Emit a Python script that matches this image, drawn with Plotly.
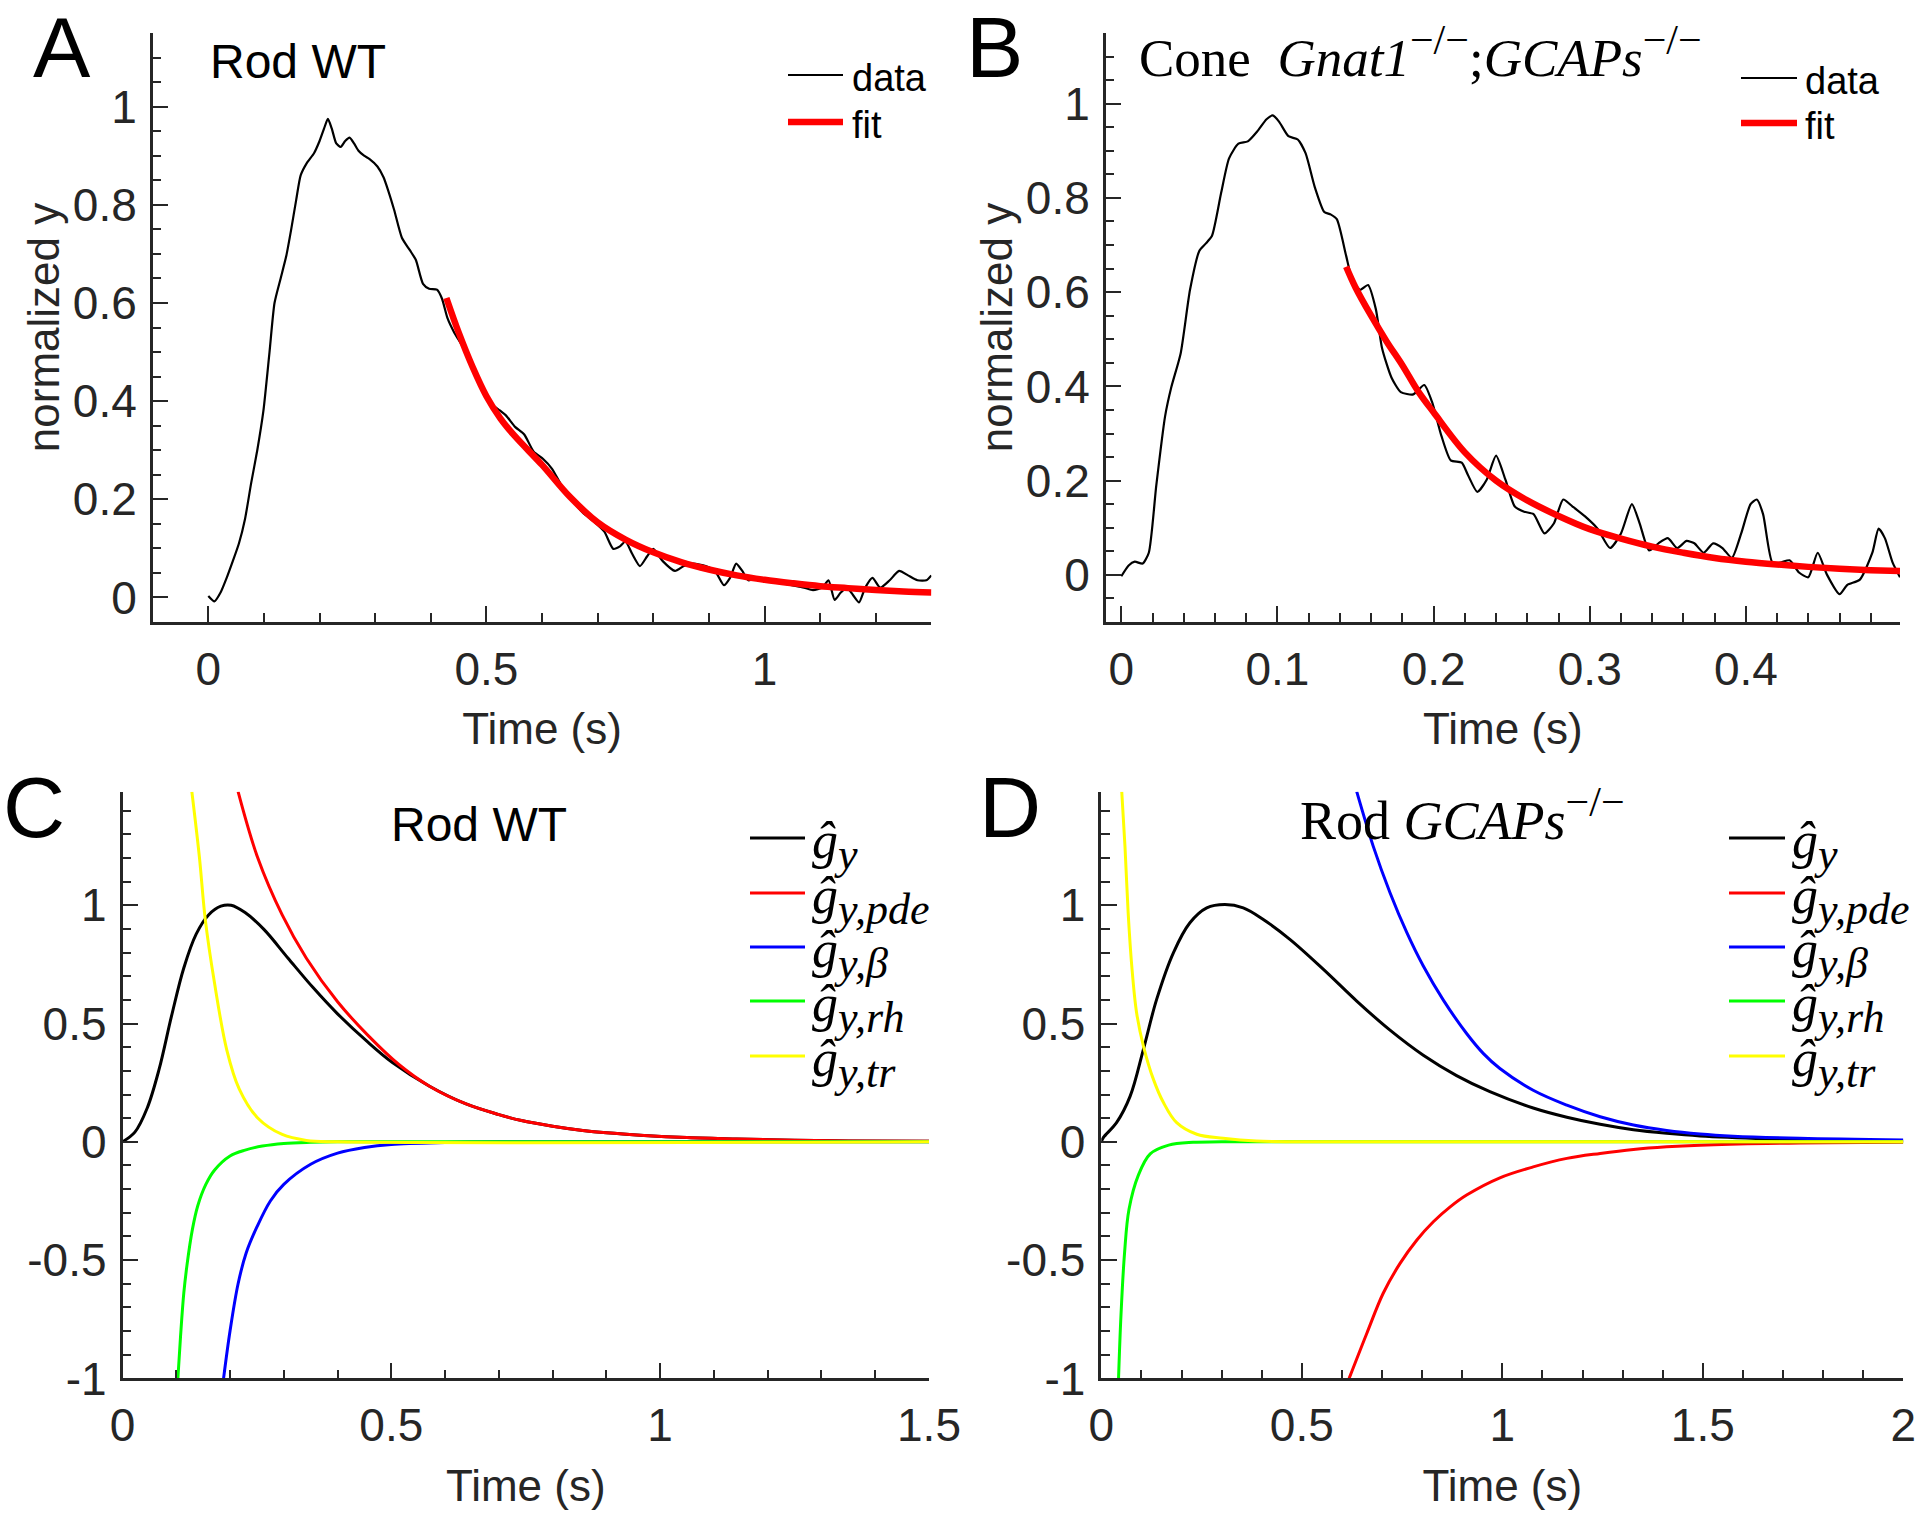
import plotly.graph_objects as go

W, H = 1920, 1518

# ---------------- Panel A: Rod WT (data + fit) ----------------
tA = [0.0, 0.011, 0.022, 0.033, 0.044, 0.055, 0.066, 0.077, 0.088, 0.099, 0.11, 0.119, 0.13, 0.14,
      0.149, 0.158, 0.166, 0.177, 0.19, 0.2, 0.208, 0.215, 0.222, 0.23, 0.238, 0.246, 0.254, 0.262,
      0.27, 0.28, 0.29, 0.304, 0.315, 0.324, 0.334, 0.348, 0.362, 0.373, 0.386, 0.397, 0.411, 0.42,
      0.43, 0.442, 0.458, 0.475, 0.491, 0.508, 0.524, 0.535, 0.552, 0.568, 0.585, 0.602, 0.618, 0.635,
      0.651, 0.673, 0.695, 0.712, 0.728, 0.74, 0.75, 0.762, 0.776, 0.789, 0.8, 0.817, 0.839, 0.855,
      0.872, 0.894, 0.911, 0.927, 0.938, 0.949, 0.96, 0.971, 0.988, 1.004, 1.026, 1.049, 1.071, 1.087,
      1.104, 1.115, 1.126, 1.137, 1.148, 1.159, 1.17, 1.181, 1.194, 1.208, 1.225, 1.242, 1.258, 1.275,
      1.291, 1.3]
yA = [0.003, -0.008, 0.01, 0.04, 0.074, 0.11, 0.16, 0.233, 0.3, 0.38, 0.5, 0.6, 0.65, 0.695,
      0.75, 0.81, 0.86, 0.885, 0.905, 0.93, 0.955, 0.975, 0.955, 0.925, 0.918, 0.93, 0.937, 0.925,
      0.91, 0.9, 0.893, 0.878, 0.856, 0.827, 0.79, 0.733, 0.708, 0.688, 0.639, 0.629, 0.627, 0.609,
      0.569, 0.54, 0.51, 0.47, 0.431, 0.396, 0.381, 0.371, 0.347, 0.332, 0.297, 0.282, 0.262, 0.228,
      0.203, 0.173, 0.153, 0.134, 0.099, 0.104, 0.114, 0.089, 0.064, 0.084, 0.099, 0.074, 0.054, 0.064,
      0.069, 0.064, 0.054, 0.025, 0.04, 0.069, 0.054, 0.035, 0.04, 0.035, 0.03, 0.025, 0.02, 0.015,
      0.02, 0.035, -0.005, 0.01, 0.02, 0.005, -0.01, 0.02, 0.04, 0.02, 0.035, 0.054, 0.045, 0.035,
      0.035, 0.045]
tA_fit = [0.428, 0.45, 0.475, 0.5, 0.525, 0.55, 0.6, 0.65, 0.7, 0.75, 0.8, 0.85, 0.9, 0.95, 1.0,
          1.05, 1.1, 1.15, 1.2, 1.25, 1.3]
yA_fit = [0.61, 0.54, 0.47, 0.41, 0.365, 0.33, 0.27, 0.205, 0.153, 0.118, 0.092, 0.072, 0.057,
          0.045, 0.036, 0.029, 0.023, 0.019, 0.015, 0.012, 0.01]

# ---------------- Panel B: Cone Gnat1-/-;GCAPs-/- ----------------
tB = [0, 0.0047, 0.0086, 0.0137, 0.0176, 0.0224, 0.028, 0.032, 0.038, 0.044, 0.05, 0.054, 0.058,
      0.064, 0.069, 0.075, 0.081, 0.087, 0.093, 0.097, 0.101, 0.107, 0.113, 0.118, 0.124, 0.13,
      0.134, 0.138, 0.144, 0.148, 0.153, 0.158, 0.163, 0.167, 0.173, 0.179, 0.187, 0.194, 0.199,
      0.205, 0.211, 0.218, 0.222, 0.228, 0.234, 0.24, 0.246, 0.252, 0.258, 0.264, 0.271, 0.277,
      0.283, 0.289, 0.297, 0.305, 0.313, 0.32, 0.327, 0.332, 0.338, 0.344, 0.35, 0.356, 0.362,
      0.367, 0.373, 0.379, 0.385, 0.391, 0.397, 0.403, 0.407, 0.411, 0.417, 0.422, 0.428, 0.434,
      0.44, 0.446, 0.452, 0.46, 0.465, 0.473, 0.481, 0.485, 0.489, 0.494, 0.4987]
yB = [-0.003, 0.02, 0.028, 0.024, 0.047, 0.19, 0.336, 0.398, 0.47, 0.605, 0.688, 0.703, 0.719,
      0.812, 0.884, 0.915, 0.92, 0.941, 0.967, 0.975, 0.962, 0.931, 0.924, 0.895, 0.822, 0.77,
      0.765, 0.755, 0.677, 0.625, 0.605, 0.615, 0.564, 0.481, 0.419, 0.388, 0.383, 0.403, 0.367,
      0.295, 0.243, 0.238, 0.212, 0.176, 0.202, 0.253, 0.202, 0.145, 0.134, 0.129, 0.088, 0.109,
      0.16, 0.145, 0.124, 0.098, 0.057, 0.088, 0.15, 0.109, 0.052, 0.067, 0.078, 0.057, 0.072,
      0.067, 0.047, 0.067, 0.057, 0.036, 0.088, 0.15, 0.16, 0.129, 0.026, 0.026, 0.031, 0.005,
      -0.005, 0.047, 0.0, -0.041, -0.021, -0.01, 0.047, 0.098, 0.078, 0.026, -0.005]
tB_fit = [0.144, 0.15, 0.16, 0.17, 0.18, 0.19, 0.2, 0.22, 0.24, 0.26, 0.28, 0.3, 0.32, 0.34, 0.36,
          0.38, 0.4, 0.42, 0.44, 0.46, 0.48, 0.4987]
yB_fit = [0.654, 0.61, 0.55, 0.495, 0.445, 0.39, 0.345, 0.26, 0.2, 0.158, 0.125, 0.097, 0.077,
          0.06, 0.047, 0.036, 0.028, 0.022, 0.017, 0.013, 0.01, 0.008]

# ---------------- Panel C: Rod WT components ----------------
tC_y = [0, 0.023, 0.046, 0.068, 0.091, 0.114, 0.137, 0.16, 0.183, 0.202, 0.228, 0.263, 0.308, 0.354,
        0.4, 0.457, 0.502, 0.571, 0.639, 0.7, 0.742, 0.8, 0.856, 0.9, 0.97, 1.05, 1.142, 1.25, 1.35, 1.5]
yC_y = [0, 0.041, 0.143, 0.306, 0.53, 0.735, 0.878, 0.959, 0.996, 1.0, 0.969, 0.898, 0.776, 0.653,
        0.541, 0.42, 0.335, 0.235, 0.16, 0.115, 0.09, 0.066, 0.048, 0.038, 0.027, 0.018, 0.012,
        0.007, 0.004, 0.002]
tC_pde = [0.215, 0.251, 0.297, 0.342, 0.4, 0.457, 0.514, 0.571, 0.639, 0.7, 0.742, 0.8, 0.856, 0.9,
          0.97, 1.05, 1.142, 1.25, 1.35, 1.5]
yC_pde = [1.48, 1.204, 0.959, 0.776, 0.592, 0.449, 0.327, 0.235, 0.16, 0.115, 0.09, 0.066, 0.048,
          0.038, 0.027, 0.018, 0.012, 0.007, 0.004, 0.002]
tC_beta = [0.188, 0.2, 0.215, 0.23, 0.25, 0.275, 0.3, 0.35, 0.4, 0.45, 0.5, 0.6, 0.7, 1.5]
yC_beta = [-1.0, -0.8, -0.6, -0.47, -0.36, -0.25, -0.18, -0.095, -0.048, -0.024, -0.011, -0.003, 0.0, 0.0]
tC_rh = [0.103, 0.108, 0.114, 0.12, 0.13, 0.14, 0.155, 0.171, 0.2, 0.228, 0.26, 0.3, 0.35, 0.4, 1.5]
yC_rh = [-1.0, -0.82, -0.64, -0.52, -0.37, -0.27, -0.18, -0.12, -0.06, -0.035, -0.018, -0.007,
         -0.002, 0.0, 0.0]
tC_tr = [0.129, 0.143, 0.154, 0.171, 0.194, 0.217, 0.251, 0.297, 0.342, 0.4, 1.5]
yC_tr = [1.48, 1.204, 0.939, 0.673, 0.388, 0.224, 0.102, 0.031, 0.006, 0.0, 0.0]

# ---------------- Panel D: Rod GCAPs-/- components ----------------
tD_y = [0, 0.005, 0.038, 0.072, 0.105, 0.138, 0.18, 0.221, 0.263, 0.308, 0.354, 0.404, 0.471, 0.554,
        0.637, 0.72, 0.803, 0.886, 0.969, 1.077, 1.161, 1.244, 1.327, 1.41, 1.493, 1.66, 1.8, 2.0]
yD_y = [0, 0.018, 0.081, 0.193, 0.391, 0.602, 0.8, 0.926, 0.989, 1.003, 0.989, 0.94, 0.855, 0.729,
        0.595, 0.472, 0.366, 0.28, 0.212, 0.143, 0.104, 0.074, 0.051, 0.036, 0.025, 0.013, 0.007, 0.003]
tD_pde = [0.618, 0.662, 0.703, 0.745, 0.787, 0.828, 0.87, 0.911, 0.994, 1.077, 1.161, 1.244, 1.327,
          1.41, 1.493, 1.66, 2.0]
yD_pde = [-1.0, -0.81, -0.64, -0.514, -0.415, -0.338, -0.275, -0.225, -0.152, -0.106, -0.07,
          -0.049, -0.032, -0.021, -0.014, -0.007, -0.002]
tD_beta = [0.637, 0.678, 0.72, 0.762, 0.803, 0.853, 0.911, 0.953, 0.994, 1.077, 1.161, 1.244,
           1.327, 1.41, 1.493, 1.576, 1.742, 2.0]
yD_beta = [1.48, 1.25, 1.053, 0.884, 0.743, 0.599, 0.458, 0.373, 0.31, 0.218, 0.155, 0.106,
           0.071, 0.048, 0.033, 0.024, 0.015, 0.008]
tD_rh = [0.043, 0.049, 0.058, 0.069, 0.092, 0.122, 0.168, 0.229, 0.3, 2.0]
yD_rh = [-1.0, -0.735, -0.469, -0.286, -0.143, -0.051, -0.014, -0.002, 0.0, 0.0]
tD_tr = [0.051, 0.059, 0.067, 0.076, 0.088, 0.105, 0.13, 0.155, 0.188, 0.238, 0.304, 0.387, 0.5, 2.0]
yD_tr = [1.48, 1.25, 0.968, 0.743, 0.546, 0.405, 0.264, 0.166, 0.081, 0.032, 0.015, 0.003, 0.0, 0.0]

# tick labels
tickA_x = [0, 0.5, 1]
tickA_x_text = ["0", "0.5", "1"]
tickAB_y = [0, 0.2, 0.4, 0.6, 0.8, 1]
tickAB_y_text = ["0", "0.2", "0.4", "0.6", "0.8", "1"]
tickB_x = [0, 0.1, 0.2, 0.3, 0.4]
tickB_x_text = ["0", "0.1", "0.2", "0.3", "0.4"]
tickC_x = [0, 0.5, 1, 1.5]
tickC_x_text = ["0", "0.5", "1", "1.5"]
tickD_x = [0, 0.5, 1, 1.5, 2]
tickD_x_text = ["0", "0.5", "1", "1.5", "2"]
tickCD_y = [-1, -0.5, 0, 0.5, 1]
tickCD_y_text = ["-1", "-0.5", "0", "0.5", "1"]

SUBSPAN = "<span style='font-size:44px'>"
legend_C_labels = ["<i>ĝ</i><sub>" + SUBSPAN + "<i>y</i></span></sub>",
                   "<i>ĝ</i><sub>" + SUBSPAN + "<i>y,pde</i></span></sub>",
                   "<i>ĝ</i><sub>" + SUBSPAN + "<i>y,β</i></span></sub>",
                   "<i>ĝ</i><sub>" + SUBSPAN + "<i>y,rh</i></span></sub>",
                   "<i>ĝ</i><sub>" + SUBSPAN + "<i>y,tr</i></span></sub>"]
comp_colors = ["#000000", "#ff0000", "#0000ff", "#00ff00", "#ffff00"]

SUP = "<sup><span style='font-size:42px'>−/−</span></sup>"
title_B = "Cone\u2002<i>Gnat1</i>" + SUP + ";<i>GCAPs</i>" + SUP
title_D = "Rod <i>GCAPs</i>" + SUP

AX = "#262626"
SANS = "Liberation Sans"
SERIF = "Liberation Serif"
TICKFONT = dict(family=SANS, size=46, color=AX)
TITLEFONT = dict(family=SANS, size=44, color=AX)


def px(xp):
    return xp / W


def py(yp):
    return 1 - yp / H


fig = go.Figure()

fig.add_trace(go.Scatter(x=tA, y=yA, mode="lines", line=dict(color="black", width=2.2, shape="spline", smoothing=0.6),
                         xaxis="x", yaxis="y", showlegend=False))
fig.add_trace(go.Scatter(x=tA_fit, y=yA_fit, mode="lines", line=dict(color="#ff0000", width=6.5, shape="spline"),
                         xaxis="x", yaxis="y", showlegend=False))
fig.add_trace(go.Scatter(x=tB, y=yB, mode="lines", line=dict(color="black", width=2.2, shape="spline", smoothing=0.6),
                         xaxis="x2", yaxis="y2", showlegend=False))
fig.add_trace(go.Scatter(x=tB_fit, y=yB_fit, mode="lines", line=dict(color="#ff0000", width=6.5, shape="spline"),
                         xaxis="x2", yaxis="y2", showlegend=False))

for (tt, yy), c in zip([(tC_y, yC_y), (tC_pde, yC_pde), (tC_beta, yC_beta), (tC_rh, yC_rh), (tC_tr, yC_tr)], comp_colors):
    fig.add_trace(go.Scatter(x=tt, y=yy, mode="lines", line=dict(color=c, width=3, shape="spline"),
                             xaxis="x3", yaxis="y3", showlegend=False))
for (tt, yy), c in zip([(tD_y, yD_y), (tD_pde, yD_pde), (tD_beta, yD_beta), (tD_rh, yD_rh), (tD_tr, yD_tr)], comp_colors):
    fig.add_trace(go.Scatter(x=tt, y=yy, mode="lines", line=dict(color=c, width=3, shape="spline"),
                             xaxis="x4", yaxis="y4", showlegend=False))


def axis(domain, rng, tickvals, ticktext, minor_dtick, title=None, standoff=None, anchor=None, is_x=True):
    d = dict(domain=domain, range=rng, tickmode="array", tickvals=tickvals, ticktext=ticktext,
             showline=True, linecolor=AX, linewidth=2.5, ticks="inside", ticklen=16, tickwidth=2,
             tickcolor=AX, tickfont=TICKFONT, showgrid=False, zeroline=False, mirror=False,
             ticklabelstandoff=5 if is_x else 4, automargin=False,
             minor=dict(ticks="inside", ticklen=9, tickwidth=2, tickcolor=AX, tickmode="linear",
                        tick0=0, dtick=minor_dtick, showgrid=False),
             anchor=anchor, fixedrange=True)
    if title:
        d["title"] = dict(text=title, font=TITLEFONT, standoff=standoff)
    return d


rowTop = [py(622), py(33)]
rowBot = [py(1378.4), py(791.7)]

fig.update_layout(
    width=W, height=H, margin=dict(l=0, r=0, t=0, b=0, pad=0, autoexpand=False),
    paper_bgcolor="white", plot_bgcolor="white",
    xaxis=axis([px(152.7), px(931.4)], [-0.1, 1.3], tickA_x, tickA_x_text, 0.1, "Time (s)", 20, "y"),
    yaxis=axis(rowTop, [-0.05, 1.15], tickAB_y, tickAB_y_text, 0.05, "normalized y", 0, "x", is_x=False),
    xaxis2=axis([px(1105.7), px(1900)], [-0.01, 0.4987], tickB_x, tickB_x_text, 0.02, "Time (s)", 20, "y2"),
    yaxis2=axis(rowTop, [-0.1, 1.15], tickAB_y, tickAB_y_text, 0.05, "normalized y", 0, "x2", is_x=False),
    xaxis3=axis([px(122.5), px(929)], [0, 1.5], tickC_x, tickC_x_text, 0.1, "Time (s)", 20, "y3"),
    yaxis3=axis(rowBot, [-1, 1.48], tickCD_y, tickCD_y_text, 0.1, None, None, "x3", is_x=False),
    xaxis4=axis([px(1101.3), px(1903.3)], [0, 2], tickD_x, tickD_x_text, 0.1, "Time (s)", 20, "y4"),
    yaxis4=axis(rowBot, [-1, 1.48], tickCD_y, tickCD_y_text, 0.1, None, None, "x4", is_x=False),
)

ann = []
shapes = []

# panel letters
for letter, (cx, cy) in zip(["A", "B", "C", "D"], [(62, 47), (995, 47), (34, 807), (1010, 807)]):
    ann.append(dict(text=letter, x=px(cx), y=py(cy), xref="paper", yref="paper", xanchor="center",
                    yanchor="middle", showarrow=False, font=dict(family=SANS, size=86, color="black")))

# panel titles
ann.append(dict(text="Rod WT", x=px(208), y=py(61), xref="paper", yref="paper", xanchor="left",
                yanchor="middle", showarrow=False, font=dict(family=SANS, size=48, color="black")))
ann.append(dict(text="Rod WT", x=px(389), y=py(824), xref="paper", yref="paper", xanchor="left",
                yanchor="middle", showarrow=False, font=dict(family=SANS, size=48, color="black")))
ann.append(dict(text=title_B, x=px(1137), y=py(52),
                xref="paper", yref="paper", xanchor="left", yanchor="middle", showarrow=False,
                font=dict(family=SERIF, size=53, color="black")))
ann.append(dict(text=title_D, x=px(1298), y=py(815),
                xref="paper", yref="paper", xanchor="left", yanchor="middle", showarrow=False,
                font=dict(family=SERIF, size=54, color="black")))

# legends A and B
for (x0, x1, tx, ys) in [(788, 843, 850, (75, 122)), (1741, 1797, 1803, (78, 123))]:
    shapes.append(dict(type="line", xref="paper", yref="paper", x0=px(x0), x1=px(x1), y0=py(ys[0]), y1=py(ys[0]),
                       line=dict(color="black", width=2.2)))
    shapes.append(dict(type="line", xref="paper", yref="paper", x0=px(x0), x1=px(x1), y0=py(ys[1]), y1=py(ys[1]),
                       line=dict(color="#ff0000", width=6.5)))
    for lab, yy in zip(["data", "fit"], ys):
        ann.append(dict(text=lab, x=px(tx), y=py(yy + 3), xref="paper", yref="paper", xanchor="left",
                        yanchor="middle", showarrow=False, font=dict(family=SANS, size=38, color="black")))

# legends C and D
legend_rows = [838, 893, 947, 1001, 1056]
for (x0, x1, tx) in [(750, 805, 810), (1729, 1785, 1790)]:
    for lab, c, yy in zip(legend_C_labels, comp_colors, legend_rows):
        shapes.append(dict(type="line", xref="paper", yref="paper", x0=px(x0), x1=px(x1), y0=py(yy), y1=py(yy),
                           line=dict(color=c, width=3)))
        ann.append(dict(text=lab, x=px(tx), y=py(yy + 7), xref="paper", yref="paper", xanchor="left",
                        yanchor="middle", showarrow=False, font=dict(family=SERIF, size=52, color="black")))

fig.update_layout(annotations=ann, shapes=shapes)
fig.write_html("out.html", config={"displayModeBar": False},
               post_script="document.body.style.margin='0';document.body.style.overflow='hidden';")
